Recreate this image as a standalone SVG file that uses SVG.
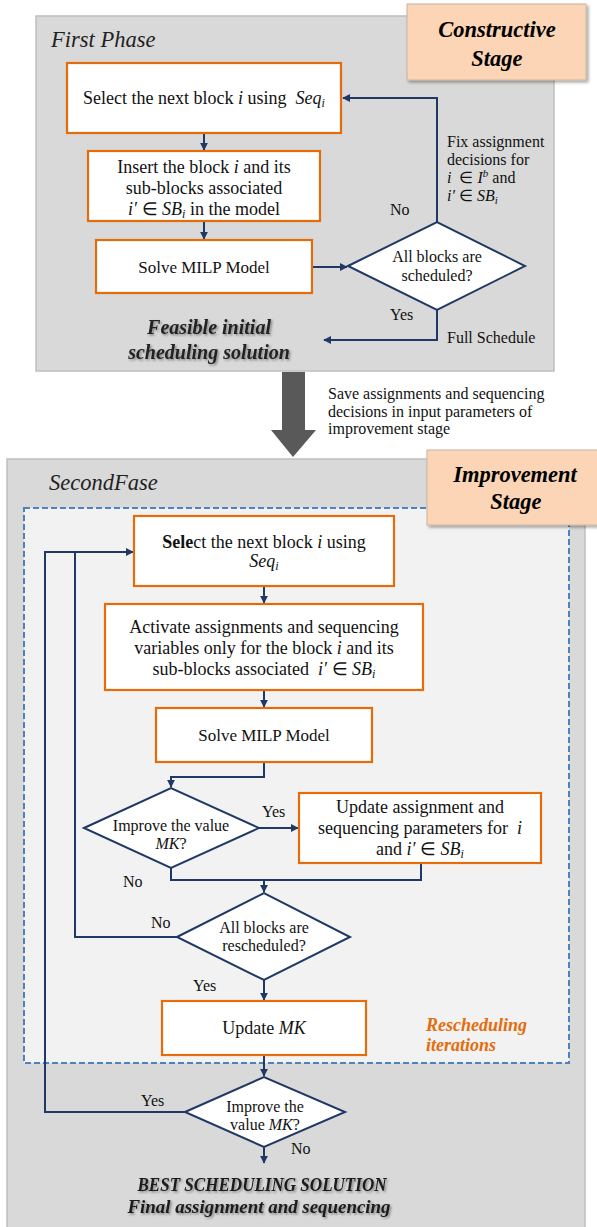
<svg xmlns="http://www.w3.org/2000/svg" width="597" height="1227" viewBox="0 0 597 1227">
<defs>
<style>
.phase{fill:#d9d9d9;stroke:#bfbfbf;stroke-width:1.5}
.stage{fill:#fbd5b5;stroke:#c8b4a0;stroke-width:1}
.stagetxt{font-family:"Liberation Serif",serif;font-weight:bold;font-style:italic;font-size:22.5px;fill:#000;text-anchor:middle}
.box{fill:#fff;stroke:#e46c0a;stroke-width:2.2}
.dia{fill:#fff;stroke:#1f3864;stroke-width:2}
.t{font-family:"Liberation Serif",serif;font-size:18px;fill:#111;text-anchor:middle}
.s{font-family:"Liberation Serif",serif;font-size:17px;fill:#111;text-anchor:middle}
.d{font-family:"Liberation Serif",serif;font-size:16px;fill:#111;text-anchor:middle}
.lbl{font-family:"Liberation Serif",serif;font-size:16px;fill:#111}
.m{font-style:italic}
.conn{fill:none;stroke:#1f3864;stroke-width:2}
.title{font-family:"Liberation Serif",serif;font-style:italic;font-size:22.5px;fill:#222}
.res{font-family:"Liberation Serif",serif;font-style:italic;font-weight:bold;font-size:20px;fill:#222;text-anchor:middle}
.best{font-family:"Liberation Serif",serif;font-style:italic;font-weight:bold;font-size:19px;fill:#1a1a1a;text-anchor:middle}
.orange{font-family:"Liberation Serif",serif;font-style:italic;font-weight:bold;font-size:18px;fill:#e46c0a}
</style>
<marker id="ah" viewBox="0 0 10 10" refX="9" refY="5" markerWidth="8" markerHeight="8" markerUnits="userSpaceOnUse" orient="auto">
<path d="M0,0 L10,5 L0,10 z" fill="#1f3864"/>
</marker>
<filter id="sh" x="-5%" y="-5%" width="115%" height="120%">
<feDropShadow dx="2" dy="2" stdDeviation="1.5" flood-color="#000" flood-opacity="0.35"/>
</filter>
<filter id="tsh" x="-5%" y="-30%" width="110%" height="160%">
<feDropShadow dx="1.5" dy="1.5" stdDeviation="1" flood-color="#000" flood-opacity="0.4"/>
</filter>
</defs>

<g id="phase1">
<rect class="phase" x="36" y="16" width="518" height="355"/>
<text class="title" x="51" y="47">First Phase</text>
</g>
<g id="constructive-stage">
<rect class="stage" x="407" y="4" width="179" height="76" filter="url(#sh)"/>
<text class="stagetxt" x="497" y="37">Constructive</text>
<text class="stagetxt" x="497" y="66">Stage</text>
</g>

<g id="connectors">
<path class="conn" d="M204,133 V150" marker-end="url(#ah)"/>
<path class="conn" d="M204,221 V239" marker-end="url(#ah)"/>
<path class="conn" d="M312,267 H347" marker-end="url(#ah)"/>
<path class="conn" d="M437,222 V98 H343" marker-end="url(#ah)"/>
<path class="conn" d="M437,310 V340 H324" marker-end="url(#ah)"/>
</g>

<g id="box1">
<rect class="box" x="67" y="63" width="274" height="70"/>
<text class="t" x="204" y="104" xml:space="preserve">Select the next block <tspan class="m">i</tspan> using  <tspan class="m">Seq</tspan><tspan class="m" font-size="12" dy="3">i</tspan></text>
</g>
<g id="box2">
<rect class="box" x="88" y="151" width="232" height="70"/>
<text class="t" x="204" y="173">Insert the block <tspan class="m">i</tspan> and its</text>
<text class="t" x="204" y="194">sub-blocks associated</text>
<text class="t" x="204" y="215"><tspan class="m">i′</tspan> ∈ <tspan class="m">SB</tspan><tspan class="m" font-size="12" dy="3">i</tspan><tspan dy="-3"> in the model</tspan></text>
</g>
<g id="box3">
<rect class="box" x="96" y="240" width="216" height="53"/>
<text class="s" x="204" y="273">Solve MILP Model</text>
</g>
<g id="dia1">
<polygon class="dia" points="348,266 437,222 525,266 437,310"/>
<text class="d" x="437" y="262">All blocks are</text>
<text class="d" x="437" y="281">scheduled?</text>
</g>
<g id="labels1">
<text class="lbl" x="390" y="215">No</text>
<text class="lbl" x="390" y="320">Yes</text>
<text class="lbl" x="447" y="343">Full Schedule</text>
<text class="lbl" x="447" y="147">Fix assignment</text>
<text class="lbl" x="447" y="165">decisions for</text>
<text class="lbl" x="447" y="183" xml:space="preserve"><tspan class="m">i</tspan>  ∈ <tspan class="m">I</tspan><tspan class="m" font-size="11" dy="-6">b</tspan><tspan dy="6"> and</tspan></text>
<text class="lbl" x="447" y="201"><tspan class="m">i′</tspan> ∈ <tspan class="m">SB</tspan><tspan class="m" font-size="11" dy="3">i</tspan></text>
</g>
<g id="feasible">
<text class="res" x="209" y="334" filter="url(#tsh)">Feasible initial</text>
<text class="res" x="209" y="359" filter="url(#tsh)">scheduling solution</text>
</g>

<g id="big-arrow">
<polygon points="282,372 305,372 305,430 316,430 293,457 271,430 282,430" fill="#595959"/>
<text class="lbl" x="328" y="399">Save assignments and sequencing</text>
<text class="lbl" x="328" y="417">decisions in input parameters of</text>
<text class="lbl" x="328" y="434">improvement stage</text>
</g>

<g id="phase2">
<rect class="phase" x="7" y="459" width="578" height="780"/>
<text class="title" x="49" y="490">SecondFase</text>
<rect x="24" y="508" width="545" height="555" fill="#f2f2f2" stroke="#4f81bd" stroke-width="2" stroke-dasharray="6,3"/>
</g>
<g id="improvement-stage">
<rect class="stage" x="427" y="450" width="180" height="75" filter="url(#sh)"/>
<text class="stagetxt" x="515" y="482">Improvement</text>
<text class="stagetxt" x="516" y="509">Stage</text>
</g>

<g id="connectors2">
<path class="conn" d="M264,586 V603" marker-end="url(#ah)"/>
<path class="conn" d="M264,690 V707" marker-end="url(#ah)"/>
<path class="conn" d="M264,762 V777 H171 V787" marker-end="url(#ah)"/>
<path class="conn" d="M259,828 H298" marker-end="url(#ah)"/>
<path class="conn" d="M171,868 V880 H421 V863"/>
<path class="conn" d="M264,880 V892" marker-end="url(#ah)"/>
<path class="conn" d="M177,937 H75 V552 H133" marker-end="url(#ah)"/>
<path class="conn" d="M185,1112 H45 V552 H75"/>
<path class="conn" d="M264,980 V1000" marker-end="url(#ah)"/>
<path class="conn" d="M264,1055 V1076" marker-end="url(#ah)"/>
<path class="conn" d="M264,1147 V1163" marker-end="url(#ah)"/>
</g>

<g id="boxA">
<rect class="box" x="134" y="516" width="260" height="70"/>
<text class="t" x="264" y="548"><tspan font-weight="bold">Sele</tspan>ct the next block <tspan class="m">i</tspan> using</text>
<text class="t" x="264" y="567"><tspan class="m">Seq</tspan><tspan class="m" font-size="12" dy="3">i</tspan></text>
</g>
<g id="boxB">
<rect class="box" x="105" y="604" width="318" height="86"/>
<text class="t" x="264" y="633">Activate assignments and sequencing</text>
<text class="t" x="264" y="654">variables only for the block <tspan class="m">i</tspan> and its</text>
<text class="t" x="264" y="675" xml:space="preserve">sub-blocks associated  <tspan class="m">i′</tspan> ∈ <tspan class="m">SB</tspan><tspan class="m" font-size="12" dy="3">i</tspan></text>
</g>
<g id="boxC">
<rect class="box" x="156" y="708" width="216" height="54"/>
<text class="s" x="264" y="741">Solve MILP Model</text>
</g>
<g id="dia2">
<polygon class="dia" points="84,828 171,788 259,828 171,868"/>
<text class="d" x="171" y="831">Improve the value</text>
<text class="d" x="171" y="849"><tspan class="m">MK</tspan>?</text>
</g>
<g id="boxD">
<rect class="box" x="299" y="793" width="242" height="70"/>
<text class="t" x="420" y="813">Update assignment and</text>
<text class="t" x="420" y="834" xml:space="preserve">sequencing parameters for  <tspan class="m">i</tspan></text>
<text class="t" x="420" y="855">and <tspan class="m">i′</tspan> ∈ <tspan class="m">SB</tspan><tspan class="m" font-size="12" dy="3">i</tspan></text>
</g>
<g id="dia3">
<polygon class="dia" points="177,937 264,893 350,937 264,980"/>
<text class="d" x="264" y="933">All blocks are</text>
<text class="d" x="264" y="951">rescheduled?</text>
</g>
<g id="boxE">
<rect class="box" x="162" y="1001" width="204" height="54"/>
<text class="t" x="264" y="1034">Update <tspan class="m">MK</tspan></text>
</g>
<g id="dia4">
<polygon class="dia" points="185,1112 264,1077 345,1112 264,1147"/>
<text class="d" x="265" y="1112">Improve the</text>
<text class="d" x="265" y="1130">value <tspan class="m">MK</tspan>?</text>
</g>
<g id="labels2">
<text class="lbl" x="262" y="817">Yes</text>
<text class="lbl" x="123" y="887">No</text>
<text class="lbl" x="151" y="928">No</text>
<text class="lbl" x="193" y="991">Yes</text>
<text class="lbl" x="141" y="1106">Yes</text>
<text class="lbl" x="291" y="1154">No</text>
<text class="orange" x="426" y="1031">Rescheduling</text>
<text class="orange" x="426" y="1051">iterations</text>
</g>
<g id="best">
<text class="best" x="262" y="1191" textLength="249" lengthAdjust="spacingAndGlyphs" filter="url(#tsh)">BEST SCHEDULING SOLUTION</text>
<text class="best" x="259" y="1213" textLength="263" lengthAdjust="spacingAndGlyphs" filter="url(#tsh)">Final assignment and sequencing</text>
</g>
</svg>
